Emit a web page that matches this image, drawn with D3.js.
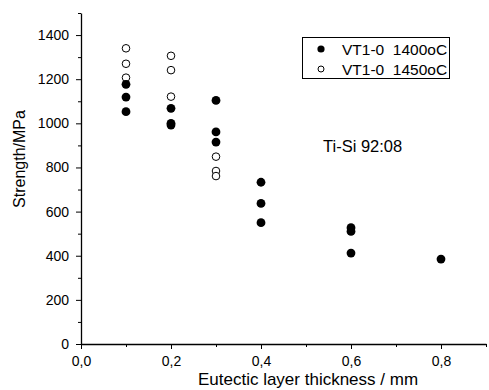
<!DOCTYPE html>
<html><head><meta charset="utf-8">
<script src="https://cdn.jsdelivr.net/npm/d3@7"></script>
<style>body{margin:0;background:#fff}svg{display:block;font-family:"Liberation Sans",Arial,sans-serif}</style>
</head><body><svg id="c" width="489" height="390"></svg>
<script>
const thickness1400 = [0.1,0.1,0.1, 0.2,0.2,0.2, 0.3,0.3,0.3, 0.4,0.4,0.4, 0.6,0.6,0.6, 0.8];
const strength1400  = [1177,1119,1053, 1068,1000,992, 1104,961,915, 733,637,550, 527,510,412, 385];
const thickness1450 = [0.1,0.1,0.1, 0.2,0.2,0.2, 0.3,0.3,0.3];
const strength1450  = [1340,1270,1207, 1306,1241,1121, 849,784,761];
const xTicks = [0,0.2,0.4,0.6,0.8];
const xMinorTicks = [0.1,0.3,0.5,0.7,0.9];
const yTicks = [0,200,400,600,800,1000,1200,1400];
const yMinorTicks = [100,300,500,700,900,1100,1300,1500];
const seriesNames = ["VT1-0  1400oC","VT1-0  1450oC"];
const annotation = "Ti-Si 92:08";

const svg = d3.select("#c");
const x = d3.scaleLinear().domain([0,0.9]).range([81,486]);
const y = d3.scaleLinear().domain([0,1500]).range([344,13]);

const gx = svg.append("g").attr("transform","translate(0,344)");
gx.call(d3.axisBottom(x).tickValues(xTicks).tickFormat(d=>d3.format(".1f")(d).replace(".",",")).tickSize(5).tickSizeOuter(0));
gx.append("g").call(d3.axisBottom(x).tickValues(xMinorTicks).tickFormat("").tickSize(3).tickSizeOuter(0)).select(".domain").remove();
const gy = svg.append("g").attr("transform","translate(81,0)");
gy.call(d3.axisLeft(y).tickValues(yTicks).tickFormat(d3.format("d")).tickSize(5).tickPadding(7).tickSizeOuter(0));
gy.append("g").call(d3.axisLeft(y).tickValues(yMinorTicks).tickFormat("").tickSize(3).tickSizeOuter(0)).select(".domain").remove();
svg.selectAll(".domain").attr("stroke","#000").attr("stroke-width",1.3);
svg.selectAll(".tick line").attr("stroke","#000").attr("stroke-width",1);
svg.selectAll(".tick text").attr("font-size","14px").attr("fill","#000").attr("font-family","Liberation Sans, Arial, sans-serif");
gx.selectAll(".tick text").attr("y",22).attr("dy",0);

svg.append("text").attr("x",308).attr("y",385).attr("text-anchor","middle").attr("font-size","17px").text("Eutectic layer thickness / mm");
svg.append("text").attr("transform","translate(25,159) rotate(-90)").attr("text-anchor","middle").attr("font-size","16px").text("Strength/MPa");

svg.append("g").selectAll("circle").data(strength1450.map((v,i)=>[thickness1450[i],v])).join("circle")
  .attr("cx",d=>x(d[0])).attr("cy",d=>y(d[1])).attr("r",3.8).attr("fill","#fff").attr("stroke","#000").attr("stroke-width",1);
svg.append("g").selectAll("circle").data(strength1400.map((v,i)=>[thickness1400[i],v])).join("circle")
  .attr("cx",d=>x(d[0])).attr("cy",d=>y(d[1])).attr("r",4.4).attr("fill","#000");

svg.append("rect").attr("x",302.5).attr("y",37.5).attr("width",147).attr("height",41).attr("fill","#fff").attr("stroke","#000").attr("stroke-width",1);
const lg = svg.append("g");
seriesNames.forEach((n,i)=>{
  const cy = 49 + i*20;
  lg.append("circle").attr("cx",321).attr("cy",cy).attr("r",i===0?3.6:3).attr("fill",i===0?"#000":"#fff").attr("stroke","#000").attr("stroke-width",i===0?0:1);
  lg.append("text").attr("x",342).attr("y",cy+5.5).attr("font-size","15.5px").style("white-space","pre").text(n);
});
svg.append("text").attr("x",323).attr("y",152).attr("font-size","16.5px").text(annotation);
</script></body></html>
